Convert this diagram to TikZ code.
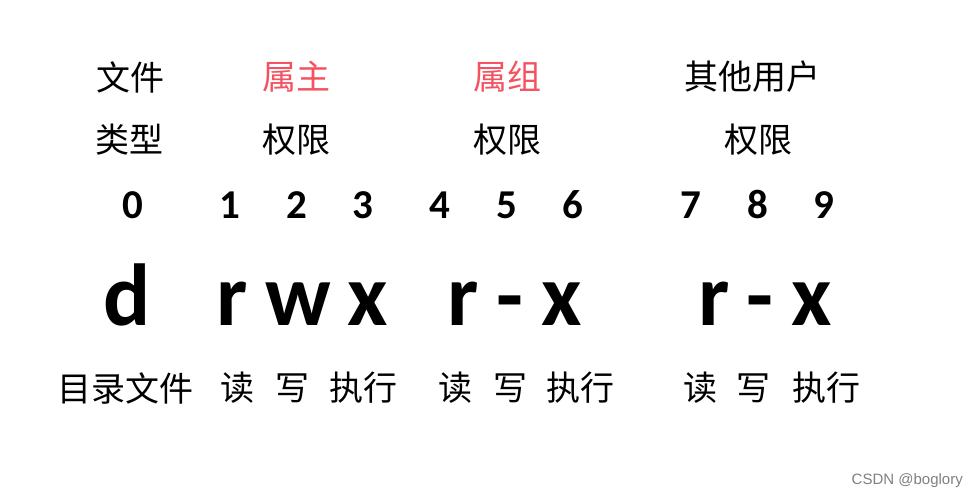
\documentclass[tikz,border=0pt]{standalone}
\usepackage{fontspec}
\setmainfont{Carlito}
\newfontfamily\cjk{Noto Sans CJK SC}
\newfontfamily\wmfont{Liberation Sans}
\usepackage{xcolor}
\definecolor{ownerred}{RGB}{245,82,96}

\begin{document}
\begin{tikzpicture}[x=1pt,y=-1pt]
\tikzset{head/.style={font=\cjk\fontsize{34}{34}\selectfont,inner sep=0pt},
  owner/.style={head,text=ownerred},
  digit/.style={font=\bfseries\fontsize{41}{41}\selectfont,inner sep=0pt,anchor=base},
  perm/.style={font=\bfseries\fontsize{88}{88}\selectfont,inner sep=0pt,anchor=base},
  meaning/.style={font=\cjk\fontsize{34}{34}\selectfont,inner sep=0pt}}
\useasboundingbox[fill=white] (0,0) rectangle (979,500);

\node[head](type1) at (130,77) {文件};
\node[owner](user1) at (296,77) {属主};
\node[owner](group1) at (507,77) {属组};
\node[head](other1) at (752,77) {其他用户};
\node[head](type2) at (129,140) {类型};
\node[head](user2) at (296,140) {权限};
\node[head](group2) at (507,140) {权限};
\node[head](other2) at (758,140) {权限};

\node[digit](n0) at (133,218) {0};
\node[digit](n1) at (230,218) {1};
\node[digit](n2) at (297,218) {2};
\node[digit](n3) at (363,218) {3};
\node[digit](n4) at (440,218) {4};
\node[digit](n5) at (507,218) {5};
\node[digit](n6) at (573,218) {6};
\node[digit](n7) at (691,218) {7};
\node[digit](n8) at (758,218) {8};
\node[digit](n9) at (824,218) {9};

\node[perm](d) at (127,325) {d};
\node[perm](ur) at (232,325) {r};
\node[perm](uw) at (298,325) {w};
\node[perm](ux) at (368,325) {x};
\node[perm](gr) at (463,325) {r};
\node[perm](gw) at (510,325) {-};
\node[perm](gx) at (562,325) {x};
\node[perm](or) at (714,325) {r};
\node[perm](ow) at (760,325) {-};
\node[perm](ox) at (812,325) {x};

\node[meaning](dir) at (125,388) {目录文件};
\node[meaning](uread) at (237,388) {读};
\node[meaning](uwrite) at (292,388) {写};
\node[meaning](uexec) at (363,388) {执行};
\node[meaning](gread) at (455,388) {读};
\node[meaning](gwrite) at (510,388) {写};
\node[meaning](gexec) at (580,388) {执行};
\node[meaning](oread) at (700,388) {读};
\node[meaning](owrite) at (753,388) {写};
\node[meaning](oexec) at (826,388) {执行};

\node[font=\wmfont\fontsize{15}{15}\selectfont,text=gray,anchor=east,inner sep=0pt](mark) at (963,481) {CSDN @boglory};
\end{tikzpicture}
\end{document}
